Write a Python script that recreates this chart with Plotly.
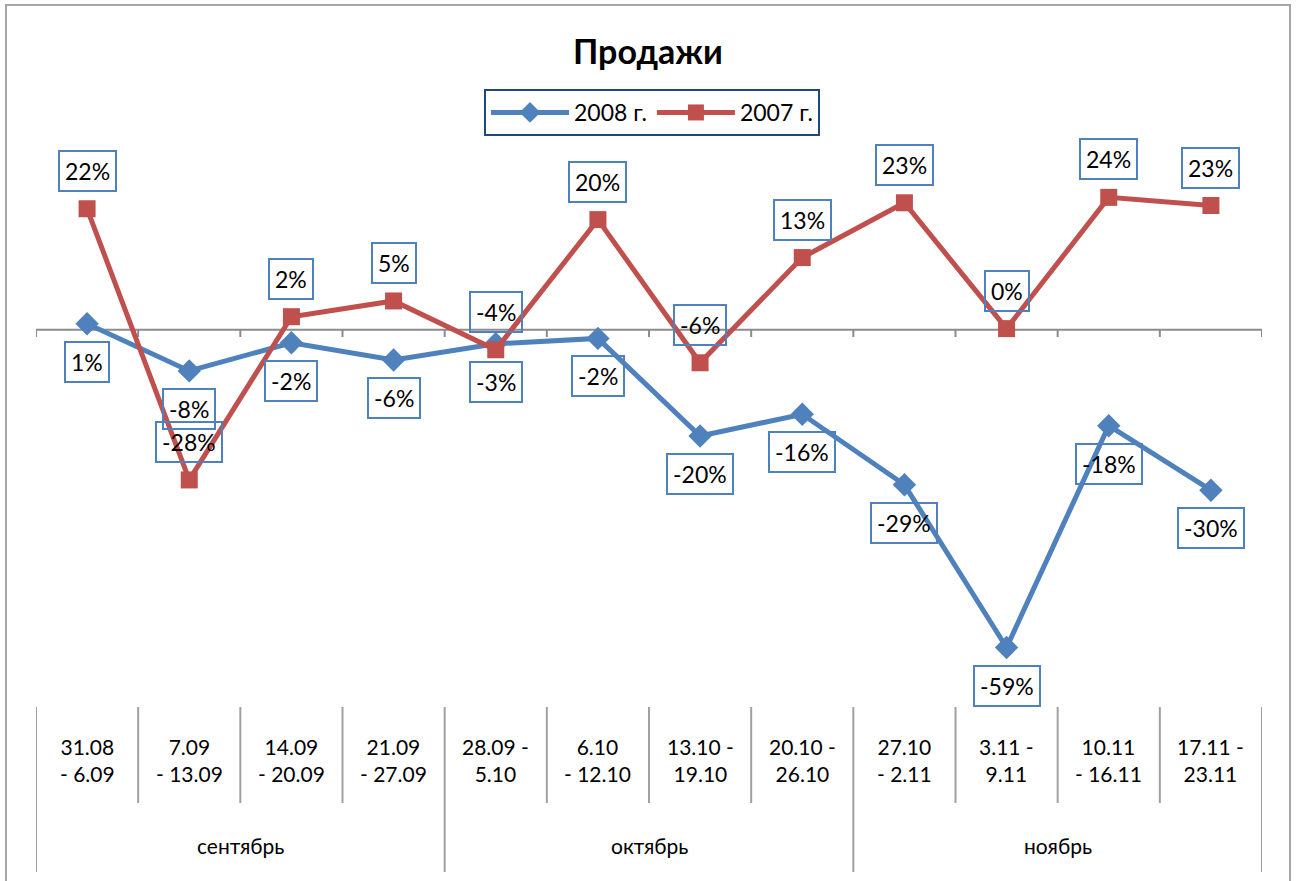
import plotly.graph_objects as go

# ---------------- data ----------------
weeks = ["31.08<br>- 6.09", "7.09<br>- 13.09", "14.09<br>- 20.09", "21.09<br>- 27.09",
         "28.09 -<br>5.10", "6.10<br>- 12.10", "13.10 -<br>19.10", "20.10 -<br>26.10",
         "27.10<br>- 2.11", "3.11 -<br>9.11", "10.11<br>- 16.11", "17.11 -<br>23.11"]
months = ["сентябрь", "октябрь", "ноябрь"]
month_spans = [(0, 3), (4, 7), (8, 11)]
sales_2008 = [0.011, -0.076, -0.024, -0.056, -0.026, -0.016, -0.196, -0.156, -0.286, -0.586, -0.177, -0.296]
sales_2007 = [0.223, -0.277, 0.024, 0.053, -0.037, 0.203, -0.061, 0.133, 0.234, 0.002, 0.244, 0.229]

# ---------------- layout geometry ----------------
W, H = 1299, 881
L, R, T, B = 36, 1262, 167, 705
PW, PH = R - L, B - T
def px(xp):
    return (xp - L) / PW
def py(yp):
    return (B - yp) / PH

FONT = "Lato, 'Noto Sans', 'DejaVu Sans', sans-serif"
BLUE = "#4F81BD"
RED = "#C0504D"
GRID = "#A0A0A0"

xs = list(range(len(weeks)))

fig = go.Figure()
fig.add_trace(go.Scatter(x=xs, y=sales_2008, mode="lines+markers", name="2008 г.",
                         line=dict(color=BLUE, width=5),
                         marker=dict(symbol="diamond", size=18, color=BLUE),
                         cliponaxis=False))
fig.add_trace(go.Scatter(x=xs, y=sales_2007, mode="lines+markers", name="2007 г.",
                         line=dict(color=RED, width=5),
                         marker=dict(symbol="square", size=17, color=RED),
                         cliponaxis=False))

def pct(v):
    return f"{round(v * 100):.0f}%"

LBL = dict(family=FONT, size=23, color="black")
ann = []
for i, v in enumerate(sales_2008):
    ann.append(dict(x=i, y=v, xref="x", yref="y", text=pct(v), showarrow=False,
                    yshift=-38, font=LBL, height=28, valign="middle",
                    bordercolor=BLUE, borderwidth=2, borderpad=5, bgcolor="rgba(0,0,0,0)"))
for i, v in enumerate(sales_2007):
    ann.append(dict(x=i, y=v, xref="x", yref="y", text=pct(v), showarrow=False,
                    yshift=38, font=LBL, height=28, valign="middle",
                    bordercolor=BLUE, borderwidth=2, borderpad=5, bgcolor="rgba(0,0,0,0)"))
# week labels
for i, w in enumerate(weeks):
    ann.append(dict(x=i, y=py(760), xref="x", yref="paper", text=w, showarrow=False,
                    yanchor="middle", font=dict(family=FONT, size=21, color="black")))
# month labels
for m, (a, b) in zip(months, month_spans):
    ann.append(dict(x=(a + b) / 2, y=py(845), xref="x", yref="paper", text=m, showarrow=False,
                    yanchor="middle", font=dict(family=FONT, size=21, color="black")))
# title
ann.append(dict(x=px(648), y=py(51), xref="paper", yref="paper", text="<b>Продажи</b>",
                showarrow=False, yanchor="middle",
                font=dict(family=FONT, size=34, color="black")))

shapes = []
# week dividers
for i in range(len(weeks) + 1):
    shapes.append(dict(type="line", xref="x", yref="paper", x0=i - 0.5, x1=i - 0.5,
                       y0=py(707), y1=py(803), line=dict(color=GRID, width=2)))
# month dividers
for a, b in month_spans:
    shapes.append(dict(type="line", xref="x", yref="paper", x0=a - 0.5, x1=a - 0.5,
                       y0=py(803), y1=py(872), line=dict(color=GRID, width=2)))
shapes.append(dict(type="line", xref="x", yref="paper", x0=len(weeks) - 0.5, x1=len(weeks) - 0.5,
                   y0=py(803), y1=py(872), line=dict(color=GRID, width=2)))
# zero axis line + ticks
shapes.append(dict(type="line", xref="x", yref="y", x0=-0.5, x1=len(weeks) - 0.5, y0=0, y1=0,
                   line=dict(color="#8C8C8C", width=2), layer="below"))
for i in range(len(weeks) + 1):
    shapes.append(dict(type="line", xref="x", yref="paper", x0=i - 0.5, x1=i - 0.5,
                       y0=py(330), y1=py(337), line=dict(color="#8C8C8C", width=2), layer="below"))
# chart outer border
shapes.append(dict(type="rect", xref="paper", yref="paper", x0=px(6), x1=px(1290),
                   y0=py(900), y1=py(5), line=dict(color="#A6A6A6", width=2)))

fig.update_layout(
    width=W, height=H,
    margin=dict(l=L, r=W - R, t=T, b=H - B, pad=0),
    paper_bgcolor="white", plot_bgcolor="white",
    showlegend=True,
    legend=dict(orientation="h", x=px(652), xanchor="center", y=py(89), yanchor="top",
                font=dict(family=FONT, size=23, color="black"),
                bordercolor="#1F497D", borderwidth=2, bgcolor="white",
                itemwidth=78, traceorder="normal", tracegroupgap=0),
    xaxis=dict(range=[-0.5, len(weeks) - 0.5], showgrid=False, zeroline=False,
               showticklabels=False, showline=False, ticks=""),
    yaxis=dict(range=[-0.692, 0.30], showgrid=False, zeroline=False,
               showticklabels=False, showline=False, ticks=""),
    annotations=ann, shapes=shapes,
    font=dict(family=FONT),
)

fig.write_html("out.html", config={"displayModeBar": False},
               post_script="document.body.style.margin='0';document.body.style.overflow='hidden';")
